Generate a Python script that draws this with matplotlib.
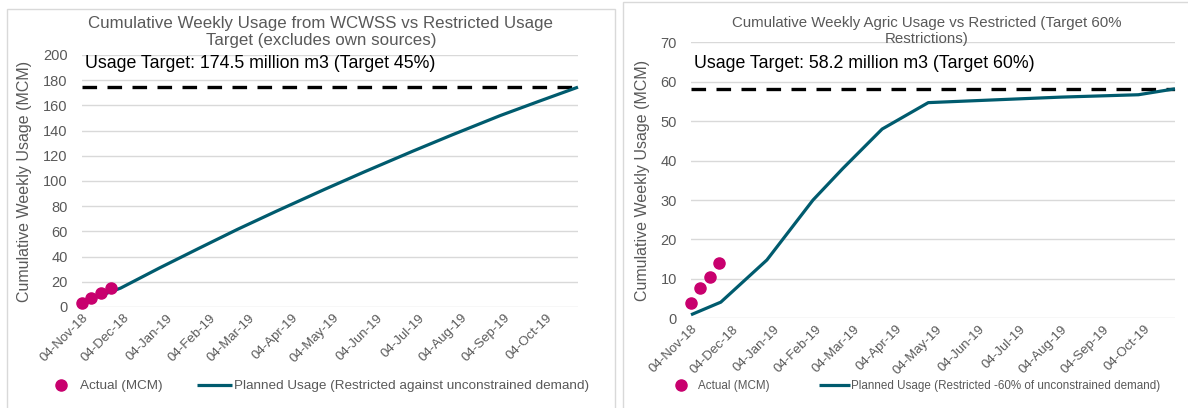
import matplotlib
matplotlib.use('Agg')
import matplotlib.pyplot as plt
import matplotlib.dates as mdates
import pandas as pd
from matplotlib.patches import Rectangle

plt.rcParams['font.family'] = ['Liberation Sans', 'DejaVu Sans']
plt.rcParams['lines.scale_dashes'] = False

# ---- data ----
actual_dates = ['2018-11-04', '2018-11-11', '2018-11-18', '2018-11-25']

wcwss_actual = [3.5, 7.5, 11.2, 15.0]
wcwss_plan_dates = ['2018-11-04', '2018-12-02', '2018-12-30', '2019-01-27', '2019-02-24',
                    '2019-03-24', '2019-04-28', '2019-05-26', '2019-06-30', '2019-07-28',
                    '2019-09-01', '2019-09-29', '2019-10-27']
wcwss_plan = [3.5, 15.0, 31.0, 46.4, 61.6, 76.0, 93.5, 107.1, 123.6, 136.4, 151.9, 163.3, 174.5]
wcwss_target = 174.5

agric_actual = [4.0, 7.8, 10.5, 14.1]
agric_plan_dates = ['2018-11-04', '2018-11-26', '2018-12-30', '2019-02-02', '2019-02-24',
                    '2019-03-25', '2019-04-28', '2019-06-30', '2019-08-04', '2019-09-30',
                    '2019-10-27']
agric_plan = [0.9, 4.1, 14.8, 30.0, 38.0, 48.0, 54.7, 55.6, 56.1, 56.7, 58.2]
agric_target = 58.2

x_start, x_end = '2018-11-04', '2019-10-27'

GREY = '#595959'
GRID = '#d9d9d9'
TEAL = '#005b6e'
PINK = '#c8006e'

fig = plt.figure(figsize=(11.88, 4.08), dpi=100)

# chart frames like the Excel chart areas
fig.patches.append(Rectangle((7 / 1188, -0.1), 608 / 1188, 1 - 9 / 408 + 0.1, transform=fig.transFigure,
                             fill=False, edgecolor=GRID, lw=1))
fig.patches.append(Rectangle((623 / 1188, -0.1), 600 / 1188, 1 - 2 / 408 + 0.1, transform=fig.transFigure,
                             fill=False, edgecolor=GRID, lw=1))


def draw(ax, plan_dates, plan, actual, target, ymax, ystep, title, note, plan_label,
         title_x, title_y, title_size, legend_pos, legend_size, col_space):
    ax.plot(pd.to_datetime(plan_dates), plan, color=TEAL, lw=2.3, zorder=3,
            label=plan_label, solid_capstyle='butt', clip_on=False)
    ax.plot(pd.to_datetime(actual_dates), actual, 'o', color=PINK, ms=8, zorder=4,
            label='Actual (MCM)', clip_on=False)
    ax.axhline(target, color='black', lw=2.4, dashes=(10.5, 7.5), zorder=2)
    ax.set_xlim(pd.Timestamp(x_start), pd.Timestamp(x_end))
    ax.set_ylim(0, ymax)
    ax.set_yticks(range(0, ymax + 1, ystep))
    ax.grid(axis='y', color=GRID, lw=1)
    ax.set_axisbelow(True)
    for s in ax.spines.values():
        s.set_visible(False)
    ax.tick_params(length=0, colors=GREY, labelsize=10.5)
    ax.tick_params(axis='y', pad=10)
    ax.xaxis.set_major_locator(mdates.MonthLocator(bymonthday=4))
    ax.xaxis.set_major_formatter(mdates.DateFormatter('%d-%b-%y'))
    for lab in ax.get_xticklabels():
        lab.set_rotation(45)
        lab.set_ha('right')
        lab.set_rotation_mode('anchor')
        lab.set_fontsize(9.5)
    ax.set_ylabel('Cumulative Weekly Usage (MCM)', color=GREY, fontsize=11.5, labelpad=8)
    fig.text(title_x, 1 - title_y / 408, title, ha='center', va='center', color=GREY,
             fontsize=title_size, linespacing=1.15)
    ax.text(0.006, target + (ymax * 0.093), note, transform=ax.get_yaxis_transform(),
            fontsize=12.8, color='black', va='center')
    h, l = ax.get_legend_handles_labels()
    ax.legend(h[::-1], l[::-1], loc='center', bbox_to_anchor=legend_pos,
              bbox_transform=fig.transFigure, ncol=2, frameon=False, fontsize=legend_size,
              handlelength=2.6, columnspacing=col_space, handletextpad=0.15, labelcolor=GREY)


ax1 = fig.add_axes([81.7 / 1188, 101 / 408, 496.3 / 1188, 252 / 408])
draw(ax1, wcwss_plan_dates, wcwss_plan, wcwss_actual, wcwss_target, 200, 20,
     'Cumulative Weekly Usage from WCWSS vs Restricted Usage\nTarget (excludes own sources)',
     'Usage Target: 174.5 million m3 (Target 45%)',
     'Planned Usage (Restricted against unconstrained demand)',
     321 / 1188, 32, 12.2, (316 / 1188, 1 - 386 / 408), 9.7, 2.5)

ax2 = fig.add_axes([691 / 1188, 89.7 / 408, 484 / 1188, 276 / 408])
draw(ax2, agric_plan_dates, agric_plan, agric_actual, agric_target, 70, 10,
     'Cumulative Weekly Agric Usage vs Restricted (Target 60%\nRestrictions)',
     'Usage Target: 58.2 million m3 (Target 60%)',
     'Planned Usage (Restricted -60% of unconstrained demand)',
     927 / 1188, 31, 10.8, (913 / 1188, 1 - 386 / 408), 8.4, 4.3)

fig.savefig('out.png', dpi=100)
